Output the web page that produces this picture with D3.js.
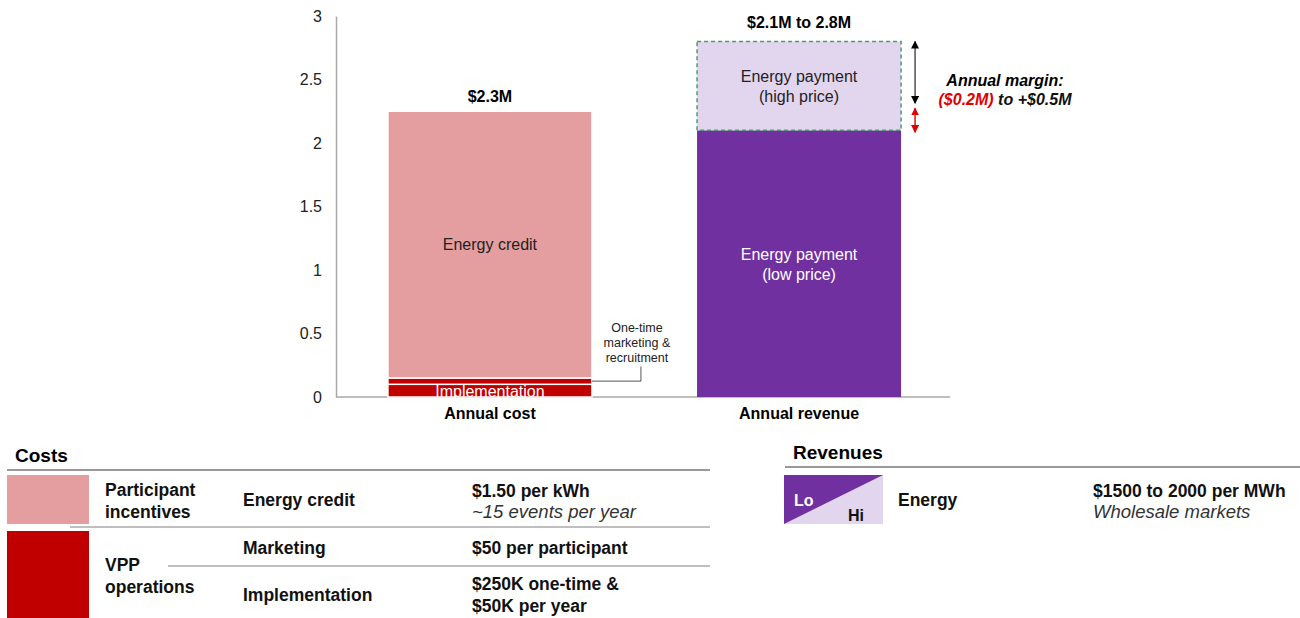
<!DOCTYPE html>
<html>
<head>
<meta charset="utf-8">
<script src="https://cdn.jsdelivr.net/npm/d3@7"></script>
<style>
  body { margin: 0; background: #fff; }
  svg { font-family: "Liberation Sans", Arial, sans-serif; }
</style>
</head>
<body>
<svg width="1300" height="618"></svg>
<script>
// data
let categories = ['Annual cost', 'Annual revenue']
let costSegments = [
  { name: 'Implementation', lo: 0, hi: 0.1, color: '#C00000', text: 'Implementation', textColor: '#fff' },
  { name: 'Marketing', lo: 0.1, hi: 0.15, color: '#C00000', text: '', textColor: '#fff' },
  { name: 'Energy credit', lo: 0.15, hi: 2.25, color: '#E59E9F', text: 'Energy credit', textColor: '#222' }
]
let revenueSegments = [
  { name: 'Low price', lo: 0, hi: 2.1, color: '#7030A0', lines: ['Energy payment', '(low price)'], textColor: '#fff' },
  { name: 'High price', lo: 2.1, hi: 2.8, color: '#E2D5EE', lines: ['Energy payment', '(high price)'], textColor: '#222' }
]
let totalLabels = ['$2.3M', '$2.1M to 2.8M']
let yTicks = [0, 0.5, 1, 1.5, 2, 2.5, 3]

let svg = d3.select('svg')

let yScale = d3.scaleLinear().domain([0, 3]).range([397, 16])
let xScale = d3.scaleBand().domain(categories).range([336, 953]).paddingInner(0.34).paddingOuter(0.168)

// y axis
let yAxis = d3.axisLeft(yScale)
              .tickValues(yTicks)
              .tickFormat(d => d)
              .tickSize(0)
              .tickPadding(14)
let gy = svg.append('g')
    .attr('transform', 'translate(336, 0)')
    .call(yAxis)
gy.select('.domain').attr('stroke', '#aaa').attr('stroke-width', 1.5)
gy.selectAll('text').style('font-size', '16px').attr('fill', '#222')

// x axis line + labels
svg.append('line')
    .attr('x1', 336).attr('x2', 950)
    .attr('y1', 397).attr('y2', 397)
    .attr('stroke', '#aaa').attr('stroke-width', 1.5)

svg.selectAll('.cat')
  .data(categories)
  .enter()
  .append('text')
    .attr('x', d => xScale(d) + xScale.bandwidth() / 2)
    .attr('y', 419)
    .attr('text-anchor', 'middle')
    .style('font-size', '16px')
    .style('font-weight', 'bold')
    .text(d => d)

// cost bar
let cx = xScale(categories[0])
let bw = xScale.bandwidth()
svg.selectAll('.cost')
  .data(costSegments)
  .enter()
  .append('rect')
    .attr('x', cx)
    .attr('width', bw)
    .attr('y', d => yScale(d.hi))
    .attr('height', d => yScale(d.lo) - yScale(d.hi))
    .attr('fill', d => d.color)
    .attr('stroke', '#fff')
    .attr('stroke-width', 1.5)

svg.selectAll('.costText')
  .data(costSegments.filter(d => d.text))
  .enter()
  .append('text')
    .attr('x', cx + bw / 2)
    .attr('y', d => d.name == 'Implementation' ? yScale(d.lo) - 0.5 : (yScale(d.lo) + yScale(d.hi)) / 2 + 5)
    .attr('text-anchor', 'middle')
    .style('font-size', '16px')
    .attr('fill', d => d.textColor)
    .text(d => d.text)

// callout for marketing
let mk = costSegments[1]
let my = (yScale(mk.lo) + yScale(mk.hi)) / 2
svg.append('path')
    .attr('d', `M${cx + bw},${my} H${cx + bw + 49} V${yScale(0.24)}`)
    .attr('fill', 'none')
    .attr('stroke', '#555')
    .attr('stroke-width', 1)
svg.append('text')
    .attr('x', cx + bw + 45)
    .attr('text-anchor', 'middle')
    .style('font-size', '12.5px')
    .attr('fill', '#222')
  .selectAll('tspan')
  .data(['One-time', 'marketing &', 'recruitment'])
  .enter()
  .append('tspan')
    .attr('x', cx + bw + 45)
    .attr('y', (d, i) => 332 + i * 15)
    .text(d => d)

// revenue bar
let rx = xScale(categories[1])
svg.selectAll('.rev')
  .data(revenueSegments)
  .enter()
  .append('rect')
    .attr('x', rx)
    .attr('width', bw)
    .attr('y', d => yScale(d.hi))
    .attr('height', d => yScale(d.lo) - yScale(d.hi))
    .attr('fill', d => d.color)

svg.append('rect')
    .attr('x', rx)
    .attr('width', bw)
    .attr('y', yScale(2.8))
    .attr('height', yScale(2.1) - yScale(2.8))
    .attr('fill', 'none')
    .attr('stroke', '#4E9A72')
    .attr('stroke-width', 1.5)
    .attr('stroke-dasharray', '4,3')

revenueSegments.forEach(seg => {
  let mid = (yScale(seg.lo) + yScale(seg.hi)) / 2
  svg.append('text')
      .attr('text-anchor', 'middle')
      .style('font-size', '16px')
      .attr('fill', seg.textColor)
    .selectAll('tspan')
    .data(seg.lines)
    .enter()
    .append('tspan')
      .attr('x', rx + bw / 2)
      .attr('y', (d, i) => mid - 4 + i * 20)
      .text(d => d)
})

// totals
svg.selectAll('.tot')
  .data(totalLabels)
  .enter()
  .append('text')
    .attr('x', (d, i) => xScale(categories[i]) + bw / 2)
    .attr('y', (d, i) => i == 0 ? yScale(2.25) - 9 : yScale(2.8) - 13)
    .attr('text-anchor', 'middle')
    .style('font-size', '16px')
    .style('font-weight', 'bold')
    .text(d => d)

// margin arrows
let defs = svg.append('defs')
function marker(id, color) {
  defs.append('marker')
      .attr('id', id)
      .attr('viewBox', '0 0 10 10')
      .attr('refX', 9).attr('refY', 5)
      .attr('markerWidth', 8).attr('markerHeight', 8)
      .attr('markerUnits', 'userSpaceOnUse')
      .attr('orient', 'auto-start-reverse')
    .append('path')
      .attr('d', 'M0,0 L10,5 L0,10 Z')
      .attr('fill', color)
}
marker('arrBlack', '#000')
marker('arrRed', '#e00000')

let ax = rx + bw + 14
svg.append('line')
    .attr('x1', ax).attr('x2', ax)
    .attr('y1', yScale(2.8)).attr('y2', yScale(2.25) - 8)
    .attr('stroke', '#444').attr('stroke-width', 1.4)
    .attr('marker-start', 'url(#arrBlack)')
    .attr('marker-end', 'url(#arrBlack)')
svg.append('line')
    .attr('x1', ax).attr('x2', ax)
    .attr('y1', yScale(2.25) - 3).attr('y2', yScale(2.1) + 2)
    .attr('stroke', '#e00000').attr('stroke-width', 1.4)
    .attr('marker-start', 'url(#arrRed)')
    .attr('marker-end', 'url(#arrRed)')

svg.append('text')
    .attr('x', 1005).attr('y', 86)
    .attr('text-anchor', 'middle')
    .style('font-size', '16px')
    .style('font-weight', 'bold')
    .style('font-style', 'italic')
    .text('Annual margin:')
let m2 = svg.append('text')
    .attr('x', 1005).attr('y', 105)
    .attr('text-anchor', 'middle')
    .style('font-size', '16px')
    .style('font-weight', 'bold')
    .style('font-style', 'italic')
m2.append('tspan').attr('fill', '#e00000').text('($0.2M)')
m2.append('tspan').attr('fill', '#111').text(' to +$0.5M')

// legend tables
let costRows = [
  { group: ['Participant', 'incentives'], color: '#E59E9F', item: 'Energy credit', value: ['$1.50 per kWh'], note: '~15 events per year' },
  { group: ['VPP', 'operations'], color: '#C00000', item: 'Marketing', value: ['$50 per participant'], note: '' },
  { group: null, color: null, item: 'Implementation', value: ['$250K one-time &', '$50K per year'], note: '' }
]

svg.append('text')
    .attr('x', 15).attr('y', 462)
    .style('font-size', '19px')
    .style('font-weight', 'bold')
    .text('Costs')
svg.append('line')
    .attr('x1', 7).attr('x2', 710).attr('y1', 470).attr('y2', 470)
    .attr('stroke', '#999').attr('stroke-width', 2)

svg.append('rect').attr('x', 7).attr('y', 475).attr('width', 82).attr('height', 49).attr('fill', costRows[0].color)
svg.append('rect').attr('x', 7).attr('y', 531).attr('width', 82).attr('height', 87).attr('fill', costRows[1].color)
svg.append('line').attr('x1', 70).attr('x2', 710).attr('y1', 527).attr('y2', 527)
    .attr('stroke', '#aaa').attr('stroke-width', 1.5)
svg.append('line').attr('x1', 168).attr('x2', 710).attr('y1', 566).attr('y2', 566)
    .attr('stroke', '#aaa').attr('stroke-width', 1.5)

function lines(x, y0, arr, opts) {
  let t = svg.append('text')
      .style('font-size', opts.italic ? '18.5px' : '17.5px')
      .style('font-weight', opts.bold ? 'bold' : 'normal')
      .style('font-style', opts.italic ? 'italic' : 'normal')
      .attr('fill', opts.color || '#111')
  arr.forEach((s, i) => {
    t.append('tspan').attr('x', x).attr('y', y0 + i * 22).text(s)
  })
}

lines(105, 496, costRows[0].group, { bold: true })
lines(243, 506, [costRows[0].item], { bold: true })
lines(472, 497, costRows[0].value, { bold: true })
lines(472, 518, [costRows[0].note], { italic: true, color: '#333' })
lines(105, 571, costRows[1].group, { bold: true })
lines(243, 554, [costRows[1].item], { bold: true })
lines(472, 554, costRows[1].value, { bold: true })
lines(243, 601, [costRows[2].item], { bold: true })
lines(472, 590, costRows[2].value, { bold: true })

// revenues table
svg.append('text')
    .attr('x', 793).attr('y', 459)
    .style('font-size', '19px')
    .style('font-weight', 'bold')
    .text('Revenues')
svg.append('line')
    .attr('x1', 785).attr('x2', 1300).attr('y1', 467).attr('y2', 467)
    .attr('stroke', '#999').attr('stroke-width', 2)

svg.append('rect').attr('x', 784).attr('y', 475).attr('width', 99).attr('height', 49).attr('fill', '#E2D5EE')
svg.append('path').attr('d', 'M784,475 H883 L784,524 Z').attr('fill', '#7030A0')
svg.append('text').attr('x', 794).attr('y', 506).attr('fill', '#fff')
    .style('font-size', '16px').style('font-weight', 'bold').text('Lo')
svg.append('text').attr('x', 848).attr('y', 521).attr('fill', '#111')
    .style('font-size', '16px').style('font-weight', 'bold').text('Hi')
lines(898, 506, ['Energy'], { bold: true })
lines(1093, 497, ['$1500 to 2000 per MWh'], { bold: true })
lines(1093, 518, ['Wholesale markets'], { italic: true, color: '#333' })
</script>
</body>
</html>
